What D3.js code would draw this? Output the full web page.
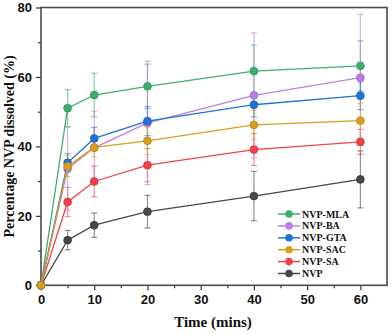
<!DOCTYPE html>
<html>
<head>
<meta charset="utf-8">
<script src="https://cdnjs.cloudflare.com/ajax/libs/d3/7.8.5/d3.min.js"></script>
<style>
  body { margin: 0; background: #fff; }
  .tick text { font-family: "Liberation Sans", Arial, sans-serif; font-weight: bold; font-size: 13px; fill: #111; }
  .axisTitle { font-family: "Liberation Serif", "Times New Roman", serif; font-weight: bold; fill: #111; }
  .legendText { font-family: "Liberation Serif", "Times New Roman", serif; font-weight: bold; font-size: 10px; fill: #111; }
</style>
</head>
<body>
<div id="chart"></div>
<script>
// Dissolution data - time points (mins)
var times = [0, 5, 10, 20, 40, 60];

// Series names (legend order) and colours
var seriesNames = ["NVP-MLA", "NVP-BA", "NVP-GTA", "NVP-SAC", "NVP-SA", "NVP"];
var seriesColors = ["#3daf6c", "#bb7fe2", "#2272d8", "#d6a020", "#f0414a", "#474747"];

// Mean % dissolved
var mlaValues = [0, 51.0, 54.8, 57.3, 61.7, 63.2];
var baValues  = [0, 33.6, 39.6, 46.8, 54.7, 59.8];
var gtaValues = [0, 35.3, 42.3, 47.3, 52.0, 54.6];
var sacValues = [0, 34.3, 39.7, 41.6, 46.2, 47.4];
var saValues  = [0, 24.0, 29.9, 34.6, 39.1, 41.3];
var nvpValues = [0, 13.0, 17.3, 21.2, 25.7, 30.5];

// Standard deviations
var mlaErrors = [0, 5.3, 6.3, 6.4, 7.5, 7.2];
var baErrors  = [0, 12.0, 10.5, 17.8, 18.0, 18.2];
var gtaErrors = [0, 2.6, 3.2, 4.2, 3.5, 4.0];
var sacErrors = [0, 3.0, 2.7, 4.0, 4.2, 5.0];
var saErrors  = [0, 4.2, 4.4, 4.8, 4.6, 3.6];
var nvpErrors = [0, 2.8, 3.5, 4.7, 7.1, 8.2];

// Axis ticks
var xTicks = [0, 10, 20, 30, 40, 50, 60];
var xMinorTicks = [5, 15, 25, 35, 45, 55];
var yTicks = [0, 20, 40, 60, 80];
var yMinorTicks = [10, 30, 50, 70];

var seriesValues = [mlaValues, baValues, gtaValues, sacValues, saValues, nvpValues];
var seriesErrors = [mlaErrors, baErrors, gtaErrors, sacErrors, saErrors, nvpErrors];

// Build series objects
var series = seriesNames.map(function(name, i) {
    return {
        name: name,
        color: seriesColors[i],
        points: times.map(function(t, j) {
            return { t: t, v: seriesValues[i][j], e: seriesErrors[i][j] };
        })
    };
});

// Draw order (SAC ends up on top at the origin)
var drawOrder = ["NVP", "NVP-SA", "NVP-MLA", "NVP-BA", "NVP-GTA", "NVP-SAC"];

// Chart dimensions
var svgWidth = 392;
var svgHeight = 334;
var margin = { top: 7.5, right: 5, bottom: 48.7, left: 41 };
var width = svgWidth - margin.left - margin.right;
var height = svgHeight - margin.top - margin.bottom;

var svg = d3.select("#chart")
    .append("svg")
    .attr("width", svgWidth)
    .attr("height", svgHeight);

var chartGroup = svg.append("g")
    .attr("transform", `translate(${margin.left}, ${margin.top})`);

// Scales
var xScale = d3.scaleLinear().domain([0, 65]).range([0, width]);
var yScale = d3.scaleLinear().domain([0, 80]).range([height, 0]);

// Minor ticks
chartGroup.append("g")
    .attr("transform", `translate(0, ${height})`)
    .call(d3.axisBottom(xScale).tickValues(xMinorTicks).tickSize(3).tickFormat(""))
    .call(g => g.select(".domain").remove())
    .selectAll("line").attr("stroke", "#333").attr("stroke-width", 1.2);

chartGroup.append("g")
    .call(d3.axisLeft(yScale).tickValues(yMinorTicks).tickSize(3).tickFormat(""))
    .call(g => g.select(".domain").remove())
    .selectAll("line").attr("stroke", "#333").attr("stroke-width", 1.2);

// Major axes
var xAxis = chartGroup.append("g")
    .attr("transform", `translate(0, ${height})`)
    .call(d3.axisBottom(xScale).tickValues(xTicks).tickSize(5).tickPadding(4));
xAxis.select(".domain").remove();
xAxis.selectAll("line").attr("stroke", "#333").attr("stroke-width", 1.2);

var yAxis = chartGroup.append("g")
    .call(d3.axisLeft(yScale).tickValues(yTicks).tickSize(5).tickPadding(4));
yAxis.select(".domain").remove();
yAxis.selectAll("line").attr("stroke", "#333").attr("stroke-width", 1.2);

// Frame
chartGroup.append("rect")
    .attr("x", 0)
    .attr("y", 0)
    .attr("width", width)
    .attr("height", height)
    .attr("fill", "none")
    .attr("stroke", "#4a4a4a")
    .attr("stroke-width", 1.6);

var line = d3.line()
    .x(d => xScale(d.t))
    .y(d => yScale(d.v));

var ordered = drawOrder.map(n => series.find(s => s.name === n));

// Error bars
ordered.forEach(function(s) {
    var eg = chartGroup.append("g")
        .attr("stroke", s.color)
        .attr("stroke-opacity", 0.6)
        .attr("stroke-width", 1.2);
    var pts = s.points.filter(d => d.e > 0);
    eg.selectAll(".bar").data(pts).enter().append("line")
        .attr("x1", d => xScale(d.t)).attr("x2", d => xScale(d.t))
        .attr("y1", d => yScale(d.v + d.e)).attr("y2", d => yScale(d.v - d.e));
    eg.selectAll(".capTop").data(pts).enter().append("line")
        .attr("x1", d => xScale(d.t) - 3).attr("x2", d => xScale(d.t) + 3)
        .attr("y1", d => yScale(d.v + d.e)).attr("y2", d => yScale(d.v + d.e));
    eg.selectAll(".capBot").data(pts).enter().append("line")
        .attr("x1", d => xScale(d.t) - 3).attr("x2", d => xScale(d.t) + 3)
        .attr("y1", d => yScale(d.v - d.e)).attr("y2", d => yScale(d.v - d.e));
});

// Lines and markers
ordered.forEach(function(s) {
    chartGroup.append("path")
        .datum(s.points)
        .attr("d", line)
        .attr("fill", "none")
        .attr("stroke", s.color)
        .attr("stroke-width", 1.3);
    chartGroup.selectAll(null)
        .data(s.points)
        .enter()
        .append("circle")
        .attr("cx", d => xScale(d.t))
        .attr("cy", d => yScale(d.v))
        .attr("r", 3.9)
        .attr("fill", s.color)
        .attr("stroke", d3.color(s.color).darker(0.5))
        .attr("stroke-width", 0.8);
});

// Legend
var legend = svg.append("g").attr("transform", "translate(278, 214)");
series.forEach(function(s, i) {
    var row = legend.append("g").attr("transform", `translate(0, ${i * 11.9})`);
    row.append("line")
        .attr("x1", 0).attr("x2", 22)
        .attr("stroke", s.color).attr("stroke-width", 1.5);
    row.append("circle")
        .attr("cx", 11).attr("r", 3.8)
        .attr("fill", s.color);
    row.append("text")
        .attr("class", "legendText")
        .attr("x", 24)
        .attr("dy", "0.35em")
        .text(s.name);
});

// Axis titles
svg.append("text")
    .attr("class", "axisTitle")
    .attr("transform", `translate(9, ${margin.top + height / 2}) rotate(-90)`)
    .attr("text-anchor", "middle")
    .attr("dy", "0.35em")
    .style("font-size", "14px")
    .text("Percentage NVP dissolved (%)");

svg.append("text")
    .attr("class", "axisTitle")
    .attr("x", 213)
    .attr("y", 327)
    .attr("text-anchor", "middle")
    .style("font-size", "15px")
    .text("Time (mins)");
</script>
</body>
</html>
